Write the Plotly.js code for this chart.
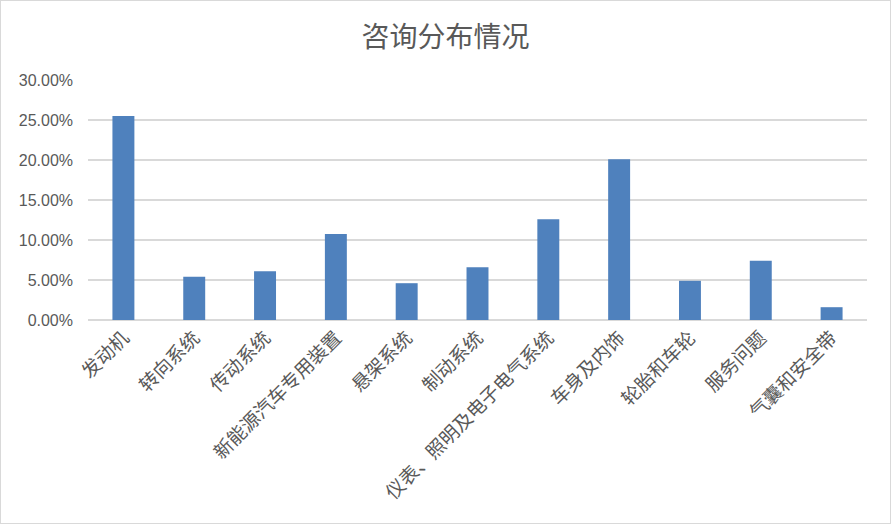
<!DOCTYPE html>
<html><head><meta charset="utf-8">
<script src="https://cdn.plot.ly/plotly-3.0.1.min.js"></script>
<style>
html,body{margin:0;padding:0;background:#fff;}
#chart{width:889px;height:522px;border:1px solid #d9d9d9;}
</style></head>
<body><div id="chart"></div>
<script>
const categories = ["发动机","转向系统","传动系统","新能源汽车专用装置","悬架系统","制动系统","仪表、照明及电子电气系统","车身及内饰","轮胎和车轮","服务问题","气囊和安全带"];
const shares = [0.255, 0.054, 0.061, 0.1075, 0.046, 0.066, 0.126, 0.201, 0.049, 0.074, 0.016];
const yTicks = [0, 0.05, 0.10, 0.15, 0.20, 0.25, 0.30];

const cjk = '"Noto Sans CJK SC", "Noto Sans", sans-serif';
Plotly.newPlot('chart', [{
  type: 'bar', x: categories, y: shares,
  marker: {color: '#4F81BD'},
  hoverinfo: 'x+y'
}], {
  width: 889, height: 522,
  margin: {l: 87, r: 23, t: 79, b: 203},
  paper_bgcolor: '#fff', plot_bgcolor: '#fff',
  title: {text: '咨询分布情况', font: {family: cjk, size: 28, color: '#595959'}, x: 0.5, xanchor: 'center', y: 0.93, yanchor: 'middle'},
  bargap: 0.69,
  showlegend: false,
  xaxis: {
    tickangle: -45, tickfont: {family: cjk, size: 19, color: '#595959'},
    showline: false, ticks: '', showgrid: false, ticklabelstandoff: 2
  },
  yaxis: {
    range: [0, 0.30], tickvals: yTicks, tickformat: '.2%',
    tickfont: {family: '"Liberation Sans", Arial, sans-serif', size: 16, color: '#595959'},
    gridcolor: '#d9d9d9', gridwidth: 1.3, zeroline: true, zerolinecolor: '#d9d9d9', zerolinewidth: 1.3,
    showline: false, ticks: '', ticklen: 0, automargin: false, ticklabelstandoff: 14
  }
}, {displayModeBar: false, staticPlot: true});
</script></body></html>
